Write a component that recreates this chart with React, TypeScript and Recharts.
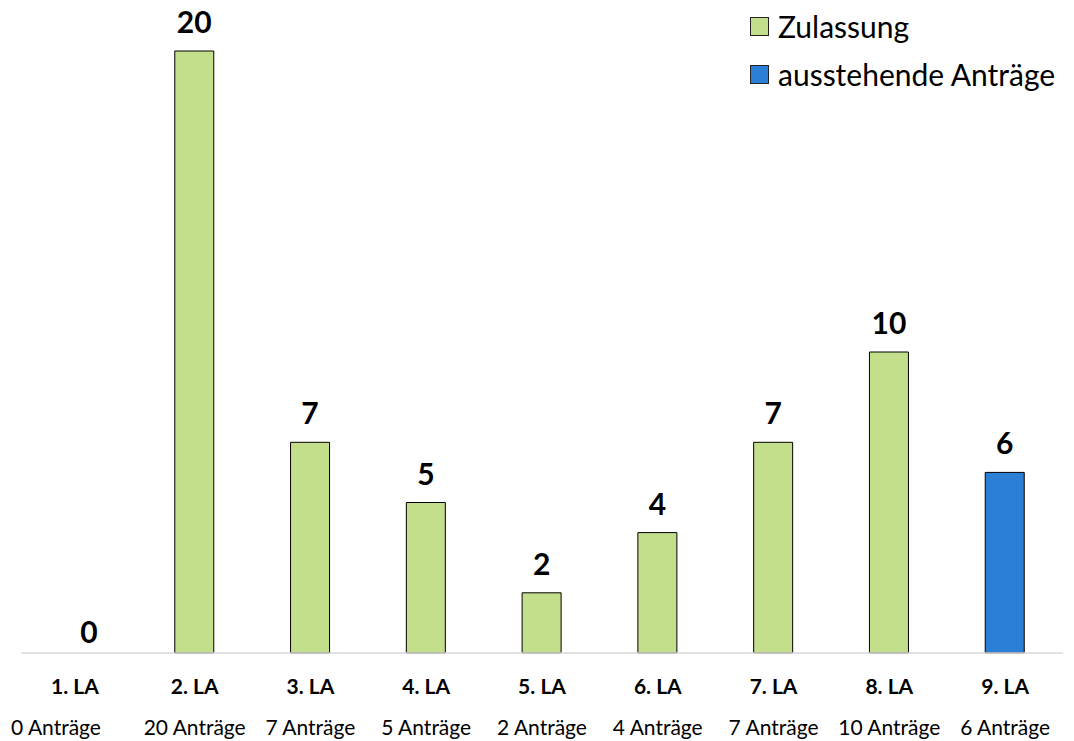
import React from "react"
import { BarChart, Bar, XAxis, YAxis, LabelList, Cell } from "recharts"

const categories = ["1. LA", "2. LA", "3. LA", "4. LA", "5. LA", "6. LA", "7. LA", "8. LA", "9. LA"]
const subLabels = ["0 Anträge", "20 Anträge", "7 Anträge", "5 Anträge", "2 Anträge", "4 Anträge", "7 Anträge", "10 Anträge", "6 Anträge"]
const zulassung = [0, 20, 7, 5, 2, 4, 7, 10, null]
const ausstehend = [null, null, null, null, null, null, null, null, 6]

const data = categories.map((name, i) => ({
  name,
  sub: subLabels[i],
  value: zulassung[i] ?? ausstehend[i] ?? 0,
  pending: ausstehend[i] !== null,
}))

const FONT = "Lato, 'Open Sans', sans-serif"
const GREEN = "#C4DF8B"
const BLUE = "#2B7FD6"

const Tick = (props: any) => {
  const { x, y, payload, index } = props
  const row = data[index] || data.find((d) => d.name === payload.value)
  // first label is pushed inward like in the original
  const sx = index === 0 ? 56 : x
  return (
    <g>
      {/* zero-height bars get no label from recharts, so draw it here */}
      {row && row.value === 0 ? (
        <text x={x + 10} y={y - 18} textAnchor="middle" fontFamily={FONT} fontWeight={700} fontSize={30} fill="#000">
          0
        </text>
      ) : null}
      <text x={index === 0 ? x - 4 : x} y={y + 33} textAnchor="middle" fontFamily={FONT} fontWeight={700} fontSize={21} fill="#000">
        {payload.value}
      </text>
      <text x={sx} y={y + 74} textAnchor="middle" fontFamily={FONT} fontSize={21} fill="#000">
        {row ? row.sub : ""}
      </text>
    </g>
  )
}

const LegendBox = () => {
  const items = [
    { label: "Zulassung", color: GREEN },
    { label: "ausstehende Anträge", color: BLUE },
  ]
  return (
    <div style={{ position: "absolute", left: 750, top: 2, fontFamily: FONT, fontSize: 30, color: "#000" }}>
      {items.map((it) => (
        <div key={it.label} style={{ display: "flex", alignItems: "center", height: 48 }}>
          <span
            style={{
              display: "inline-block",
              width: 17,
              height: 17,
              background: it.color,
              border: "1px solid #222",
              marginRight: 9,
            }}
          />
          <span>{it.label}</span>
        </div>
      ))}
    </div>
  )
}

const valueLabel = (props: any) => {
  const { x, y, width, value } = props
  if (value === null || value === undefined || value === 0) return null
  return (
    <text x={x + width / 2} y={y - 18} textAnchor="middle" fontFamily={FONT} fontWeight={700} fontSize={30} fill="#000">
      {value}
    </text>
  )
}

export default function App() {
  return (
    <div style={{ position: "absolute", left: 0, top: 0, width: 1074, height: 741, background: "#fff" }}>
      <BarChart width={1074} height={741} data={data} margin={{ top: 51, right: 11, bottom: 0, left: 21 }} barSize={39}>
        <XAxis dataKey="name" height={88} tickLine={false} axisLine={{ stroke: "#d9d9d9", strokeWidth: 1.5 }} tick={<Tick />} interval={0} />
        <YAxis hide domain={[0, 20]} />
        <Bar dataKey="value" stroke="#000" strokeWidth={1} isAnimationActive={false}>
          {data.map((d) => (
            <Cell key={d.name} fill={d.pending ? BLUE : GREEN} />
          ))}
          <LabelList dataKey="value" content={valueLabel} />
        </Bar>
      </BarChart>
      <LegendBox />
    </div>
  )
}
